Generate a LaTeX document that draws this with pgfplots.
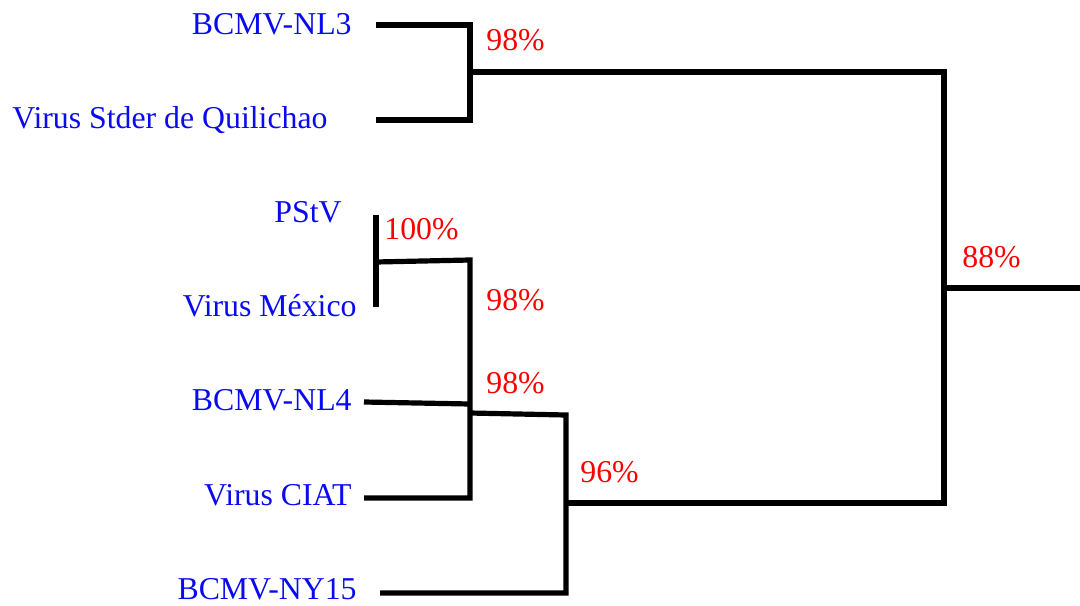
\documentclass[border=0pt]{standalone}
\usepackage{fontspec}
\setmainfont{Liberation Serif}
\usepackage{pgfplots}
\pgfplotsset{compat=1.18}
\definecolor{leafblue}{RGB}{10,10,240}
\definecolor{pctred}{RGB}{250,0,0}
\tikzset{
  leaf/.style={anchor=base east, text=leafblue, font=\fontsize{15.9}{19}\selectfont, inner sep=0pt},
  pct/.style={anchor=base west, text=pctred, font=\fontsize{15.9}{19}\selectfont, inner sep=0pt},
  branch/.style={black, solid, line width=2.6pt, mark=none, line join=miter, line cap=butt},
}
\begin{document}
\begin{tikzpicture}
\begin{axis}[
  name=tree,
  x=0.5pt, y=0.5pt,
  xmin=0, xmax=1080, ymin=0, ymax=605,
  y dir=reverse,
  hide axis, clip=false,
  scale only axis,
]
% clade NL3 / Stder
\addplot[branch] coordinates {(376,25) (470,25) (470,120) (376,120)};
% upper to root
\addplot[branch] coordinates {(470,72) (944,72) (944,503) (566,503)};
% root stem
\addplot[branch] coordinates {(944,288) (1080,288)};
% PStV / Mexico
\addplot[branch] coordinates {(376,215) (376,307)};
\addplot[branch] coordinates {(376,262) (470,260) (470,498) (364,498)};
% NL4
\addplot[branch] coordinates {(364,402) (470,404)};
% to NY15
\addplot[branch] coordinates {(470,413) (566,415) (566,593) (380,593)};

% leaf labels
\node[leaf] at (axis cs:352,34) {BCMV-NL3};
\node[leaf] at (axis cs:328,128) {Virus Stder de Quilichao};
\node[leaf] at (axis cs:342,222) {PStV};
\node[leaf] at (axis cs:357,316) {Virus México};
\node[leaf] at (axis cs:352,410) {BCMV-NL4};
\node[leaf] at (axis cs:352,505) {Virus CIAT};
\node[leaf] at (axis cs:357,599) {BCMV-NY15};

% support values
\node[pct] at (axis cs:486,50) {98\%};
\node[pct] at (axis cs:384,239) {100\%};
\node[pct] at (axis cs:486,310) {98\%};
\node[pct] at (axis cs:486,393) {98\%};
\node[pct] at (axis cs:580,482) {96\%};
\node[pct] at (axis cs:962,267) {88\%};
\end{axis}
\pgfresetboundingbox
\useasboundingbox (tree.south west) rectangle (tree.north east);
\end{tikzpicture}
\end{document}
